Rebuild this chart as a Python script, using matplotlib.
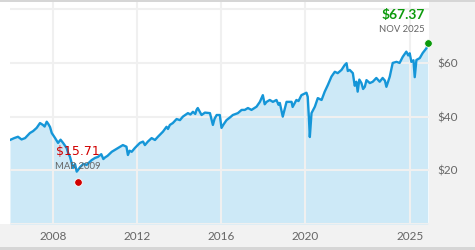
import matplotlib
matplotlib.use("Agg")
import matplotlib.pyplot as plt
from matplotlib.patches import Rectangle

plt.rcParams['font.family'] = ['Lato', 'DejaVu Sans']

# decimal year and closing price
years = [2005.95, 2006.15, 2006.33, 2006.5, 2006.67, 2006.9, 2007.05, 2007.22, 2007.38, 2007.52, 2007.6, 2007.7,
         2007.78, 2007.86, 2007.94, 2008.1, 2008.24, 2008.36, 2008.48, 2008.65, 2008.72, 2008.81, 2008.95,
         2009.05, 2009.13, 2009.2, 2009.29, 2009.45, 2009.6, 2009.84, 2010.0, 2010.14, 2010.3, 2010.4, 2010.48,
         2010.6, 2010.8, 2011.1, 2011.33, 2011.5, 2011.57, 2011.65, 2011.75, 2011.9, 2012.14, 2012.29,
         2012.38, 2012.52, 2012.7, 2012.86, 2013.0, 2013.24, 2013.41, 2013.48, 2013.57, 2013.71, 2013.89,
         2014.05, 2014.19, 2014.43, 2014.55, 2014.67, 2014.78, 2014.84, 2014.9, 2015.08, 2015.24, 2015.48,
         2015.62, 2015.7, 2015.8, 2015.95, 2016.03, 2016.12, 2016.27, 2016.45, 2016.57, 2016.81, 2016.99,
         2017.14, 2017.29, 2017.46, 2017.7, 2017.86, 2018.0, 2018.09, 2018.18, 2018.33, 2018.48, 2018.65,
         2018.75, 2018.81, 2018.95, 2019.13, 2019.37, 2019.42, 2019.6, 2019.7, 2019.84, 2020.08, 2020.14,
         2020.2, 2020.24, 2020.32, 2020.48, 2020.62, 2020.8, 2020.95, 2021.1, 2021.27, 2021.43, 2021.57,
         2021.75, 2021.9, 2021.99, 2022.05, 2022.14, 2022.29, 2022.38, 2022.46, 2022.52, 2022.6, 2022.7,
         2022.78, 2022.86, 2022.94, 2023.1, 2023.24, 2023.41, 2023.57, 2023.71, 2023.82, 2023.89, 2024.05,
         2024.19, 2024.37, 2024.52, 2024.67, 2024.84, 2024.93, 2025.0, 2025.08, 2025.18, 2025.24, 2025.32,
         2025.48, 2025.62, 2025.8, 2025.86]
prices = [31.3, 32.0, 32.5, 31.5, 32.0, 33.9, 34.6, 35.8, 37.6, 36.9, 36.3, 38.1,
          37.2, 36.1, 33.9, 32.0, 30.2, 31.4, 30.2, 28.3, 26.5, 25.0, 20.9,
          22.3, 19.5, 20.2, 21.2, 22.4, 22.0, 23.8, 24.6, 25.0, 26.0, 24.2, 24.8,
          25.4, 26.9, 28.3, 29.4, 28.8, 25.7, 27.3, 26.9, 28.3, 30.2, 30.7,
          29.4, 30.7, 32.0, 31.3, 32.5, 34.4, 36.2, 35.4, 36.9, 37.6, 39.1,
          38.7, 40.0, 41.3, 40.8, 41.8, 41.0, 42.5, 43.2, 40.6, 41.5, 41.3,
          36.9, 39.2, 40.6, 40.6, 35.8, 37.0, 38.7, 39.8, 40.6, 41.3, 42.5,
          42.5, 43.2, 42.5, 43.7, 45.5, 48.0, 44.6, 45.5, 46.2, 45.5, 46.2,
          44.4, 45.1, 40.0, 45.5, 45.5, 43.6, 46.2, 45.8, 48.0, 48.9, 47.4,
          39.0, 32.4, 41.3, 43.7, 46.9, 46.2, 49.3, 51.8, 54.9, 56.7, 56.2,
          57.4, 59.2, 59.9, 57.0, 57.4, 56.2, 51.5, 53.0, 49.3, 53.8, 52.5,
          50.3, 51.1, 53.6, 52.5, 53.0, 54.4, 53.0, 54.4, 53.4, 51.1, 54.9,
          60.0, 60.4, 60.0, 62.3, 64.2, 62.8, 63.6, 60.4, 61.0, 54.7, 61.1,
          61.8, 63.7, 65.5, 67.37]

low_year = 2009.2
low_price = 15.71
last_year = 2025.86
last_price = 67.37

xtick_pos = [2008, 2012, 2016, 2020, 2025]
xtick_labels = ['2008', '2012', '2016', '2020', '2025']
ytick_pos = [0, 20, 40, 60, 80]
ytick_labels = ['', '$20', '$40', '$60', '']

W, H = 475, 250
fig = plt.figure(figsize=(4.75, 2.5), dpi=100, facecolor='#f2f2f2')

# white panel behind the plot, grey border lines top and bottom
fig.patches.append(Rectangle((0, 26 / H), 429 / W, 222 / H, transform=fig.transFigure,
                             facecolor='white', edgecolor='none', zorder=-2))
fig.patches.append(Rectangle((0, 248 / H), 1, 2 / H, transform=fig.transFigure,
                             facecolor='#d6d6d6', edgecolor='none', zorder=-2))
fig.patches.append(Rectangle((0, 0), 1, 3 / H, transform=fig.transFigure,
                             facecolor='#d6d6d6', edgecolor='none', zorder=-2))

ax = fig.add_axes([10 / W, 26 / H, 419 / W, 222 / H])
ax.set_zorder(1)
ax.set_facecolor('white')

ax.fill_between(years, prices, 0, color='#cde9f7', lw=0, zorder=1)
ax.plot(years, prices, color='#1596d8', lw=1.7, zorder=3, solid_joinstyle='round')

ax.set_xlim(2005.95, 2025.92)
ax.set_ylim(0, 82.7)
ax.set_xticks(xtick_pos)
ax.set_xticklabels(xtick_labels)
ax.set_yticks(ytick_pos)
ax.set_yticklabels(ytick_labels)
ax.yaxis.tick_right()
ax.tick_params(axis='both', length=0, labelsize=8.5, labelcolor='#666666')
ax.tick_params(axis='x', pad=5)
ax.tick_params(axis='y', pad=6)
ax.grid(True, color='#f0f0f0', lw=1.5, zorder=2)
ax.set_axisbelow(False)
for s in ax.spines.values():
    s.set_visible(False)

# low point
ax.plot([low_year], [low_price], 'o', color='#d10000', ms=5.5, mec='white', mew=0.6, zorder=5, clip_on=False)
ax.text(low_year, 25.6, '$%.2f' % low_price, color='#d10000', fontsize=9, family='DejaVu Sans',
        ha='center', va='baseline', zorder=6)
ax.text(low_year, 20.6, 'MAR 2009', color='#666666', fontsize=6.8, ha='center', va='baseline', zorder=6)

# last point
ax.plot([last_year], [last_price], 'o', color='#0c9a0c', ms=5.5, mec='white', mew=0.6, zorder=5, clip_on=False)
ax.text(2025.72, 76.3, '$%.2f' % last_price, color='#0c9a0c', fontsize=10, fontweight='bold',
        ha='right', va='baseline', zorder=6)
ax.text(2025.72, 71.5, 'NOV 2025', color='#666666', fontsize=6.8, ha='right', va='baseline', zorder=6)

fig.savefig('out.png', dpi=100, facecolor=fig.get_facecolor())
